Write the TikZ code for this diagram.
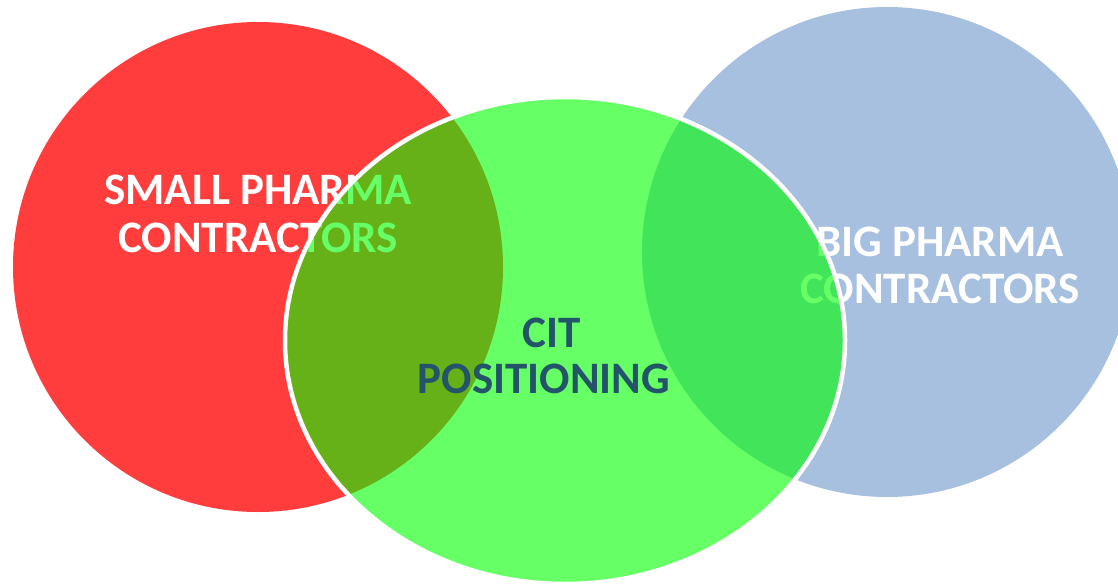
\documentclass[tikz,border=0pt]{standalone}
\usepackage{fontspec}
\setmainfont{Carlito}
\definecolor{redc}{RGB}{255,61,61}
\definecolor{bluec}{RGB}{167,192,223}
\definecolor{greenc}{RGB}{0,255,0}
\definecolor{citc}{RGB}{36,84,106}
\begin{document}
\begin{tikzpicture}[x=1pt,y=-1pt,
  lbl/.style={inner sep=0pt,anchor=base,font=\fontsize{45}{48}\selectfont\bfseries},
  wlbl/.style={lbl,text=white},
  clbl/.style={lbl,text=citc}]
\useasboundingbox (0,0) rectangle (1118,585);
\fill[redc] (258,267) circle[radius=245];
\fill[bluec] (887,252) circle[radius=245];
\node[wlbl] (s1) at (258,205) {SMALL PHARMA};
\node[wlbl] (s2) at (258,253) {CONTRACTORS};
\node[wlbl] (b1) at (940,257) {BIG PHARMA};
\node[wlbl] (b2) at (940,303) {CONTRACTORS};
\fill[greenc,fill opacity=0.6] (565,340.5) ellipse[x radius=280,y radius=243.5];
\draw[white,line width=4.5] (565,340.5) ellipse[x radius=280,y radius=243.5];
\node[clbl] (c1) at (552,347) {CIT};
\node[clbl] (c2) at (544,393) {POSITIONING};
\end{tikzpicture}
\end{document}
